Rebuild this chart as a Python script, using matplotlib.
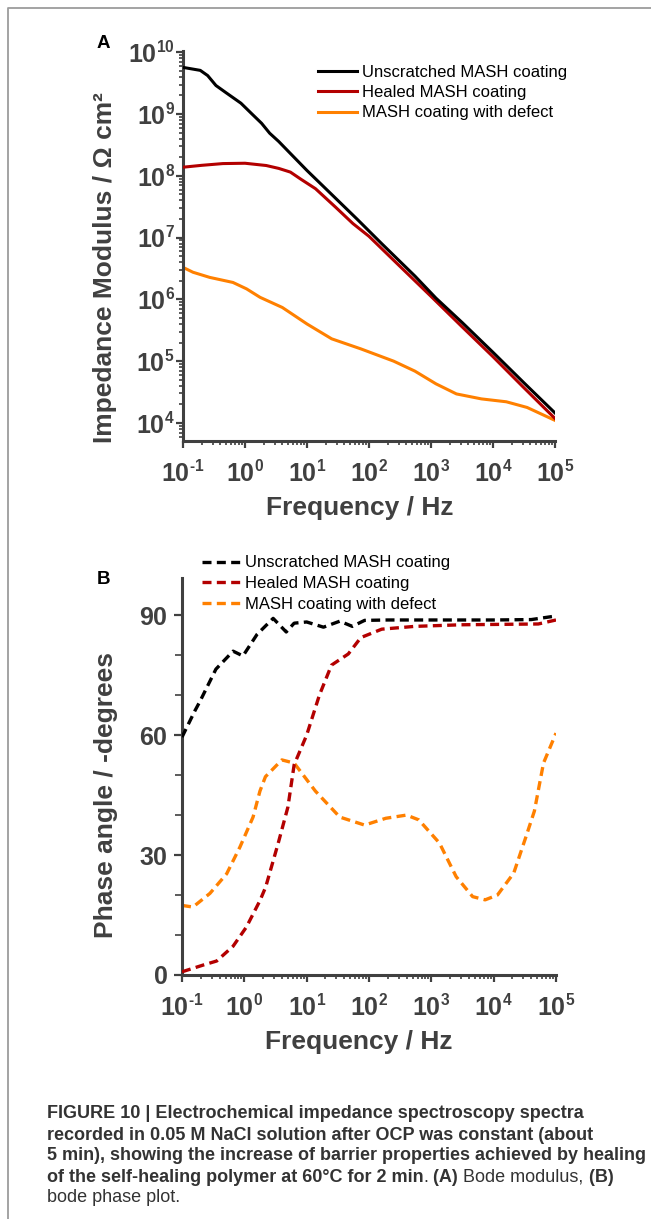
import numpy as np
import matplotlib
matplotlib.use("Agg")
import matplotlib.pyplot as plt
import matplotlib.ticker as ticker
import matplotlib._mathtext as mathtext_internals
from matplotlib.lines import Line2D

plt.rcParams["font.family"] = ["Liberation Sans", "DejaVu Sans"]
plt.rcParams["mathtext.fontset"] = "custom"
plt.rcParams["mathtext.rm"] = "Liberation Sans:bold"
plt.rcParams["mathtext.it"] = "Liberation Sans:bold"
plt.rcParams["mathtext.bf"] = "Liberation Sans:bold"
plt.rcParams["mathtext.default"] = "rm"
# smaller exponents on the tick labels, closer to the original figure
mathtext_internals.SHRINK_FACTOR = 0.62

AXIS_GREY = "#404040"

LABELS = ["Unscratched MASH coating", "Healed MASH coating", "MASH coating with defect"]
COLORS = ["#000000", "#b30000", "#ff8000"]

# --- panel A : Bode modulus (frequency in Hz, |Z| in ohm cm2) ---
mod_unscr_f = [0.1, 0.19, 0.25, 0.34, 0.5, 0.86, 1.3, 1.85, 2.5, 3.5, 5.4, 10, 25, 64, 162,
               552, 1200, 3200, 10000, 32000, 100000]
mod_unscr_z = [5.7e9, 5.1e9, 4.2e9, 2.9e9, 2.2e9, 1.5e9, 1.0e9, 7.1e8, 4.9e8, 3.6e8, 2.3e8,
               1.22e8, 5.0e7, 2.0e7, 7.9e6, 2.38e6, 1.05e6, 4.2e5, 1.39e5, 4.4e4, 1.45e4]

mod_heal_f = [0.1, 0.2, 0.44, 1.0, 2.2, 3.5, 5.4, 8, 13.7, 29, 55, 100, 300, 1000, 3000,
              10000, 30000, 100000]
mod_heal_z = [1.38e8, 1.48e8, 1.58e8, 1.6e8, 1.47e8, 1.32e8, 1.15e8, 8.8e7, 6.2e7, 3.1e7,
              1.69e7, 1.05e7, 3.6e6, 1.12e6, 3.8e5, 1.18e5, 3.9e4, 1.18e4]

mod_def_f = [0.1, 0.145, 0.27, 0.64, 1.06, 1.75, 4.0, 10, 25, 74, 250, 550, 1200, 2570, 6500,
             16400, 35500, 100000]
mod_def_z = [3.3e6, 2.75e6, 2.27e6, 1.88e6, 1.48e6, 1.08e6, 7.4e5, 4.0e5, 2.3e5, 1.58e5,
             1.0e5, 6.9e4, 4.3e4, 2.95e4, 2.45e4, 2.2e4, 1.78e4, 1.1e4]

# --- panel B : Bode phase (frequency in Hz, -phase in degrees) ---
ph_unscr_f = [0.1, 0.16, 0.195, 0.35, 0.66, 0.95, 1.6, 2.9, 4.7, 6.3, 10, 18.6, 34, 54, 85,
              200, 1000, 10000, 40000, 100000]
ph_unscr_p = [59.5, 66, 68.5, 76.5, 81, 79.8, 85.2, 89.2, 85.8, 88, 88.3, 87, 88.5, 87.2, 88.7,
              88.8, 88.8, 88.8, 88.9, 89.8]

ph_heal_f = [0.1, 0.22, 0.36, 0.66, 1.08, 1.78, 2.2, 3.5, 5.0, 6.3, 10, 16, 25, 46.5, 74, 160,
             540, 3000, 52000, 100000]
ph_heal_p = [0.8, 2.5, 3.5, 7.2, 12, 18.6, 22, 33, 42, 52.6, 60, 70, 77.5, 80.3, 84.4, 86.5,
             87.2, 87.6, 87.8, 88.8]

ph_def_f = [0.1, 0.15, 0.28, 0.52, 0.85, 1.38, 1.78, 2.18, 4.0, 6.3, 13.8, 34, 85, 186, 400,
            630, 1350, 2500, 4600, 7300, 11500, 21000, 33000, 45000, 63000, 100000]
ph_def_p = [17.4, 17, 20.4, 25.3, 32, 39.5, 46, 49.6, 53.8, 53, 46, 39.5, 37.5, 39.2, 40, 38.8,
            33, 24.6, 19.6, 18.8, 20, 25.5, 34.6, 41, 53, 60.5]

CAPTION = [
    [("FIGURE 10 | Electrochemical impedance spectroscopy spectra", "bold")],
    [("recorded in 0.05 M NaCl solution after OCP was constant (about", "bold")],
    [("5 min), showing the increase of barrier properties achieved by healing", "bold")],
    [("of the self-healing polymer at 60°C for 2 min", "bold"), (".", "normal"),
     (" (A)", "bold"), (" Bode modulus,", "normal"), (" (B)", "bold")],
    [("bode phase plot.", "normal")],
]


def power_label(v, _):
    exp = int(round(np.log10(v)))
    # short hyphen instead of the wide maths minus, as in the original
    exp_txt = str(exp).replace("-", "\u2010")
    return f"$10^{{{exp_txt}}}$"


def style_axes(ax):
    ax.spines[["top", "right"]].set_visible(False)
    for side in ["left", "bottom"]:
        ax.spines[side].set_color(AXIS_GREY)
        ax.spines[side].set_linewidth(2.2)
    ax.tick_params(which="major", direction="out", length=5, width=1.6,
                   colors=AXIS_GREY, labelsize=18, pad=2)
    ax.tick_params(which="minor", direction="out", length=3, width=1.2, colors=AXIS_GREY)
    ax.tick_params(axis="x", which="major", pad=9)
    ax.set_xscale("log")
    ax.set_xlim(0.1, 1e5)
    ax.xaxis.set_major_locator(ticker.LogLocator(base=10, numticks=10))
    ax.xaxis.set_minor_locator(ticker.LogLocator(base=10, subs=np.arange(2, 10), numticks=10))
    ax.xaxis.set_major_formatter(ticker.FuncFormatter(power_label))
    ax.xaxis.set_minor_formatter(ticker.NullFormatter())
    ax.set_xlabel("Frequency / Hz", fontsize=19, fontweight="bold", color=AXIS_GREY, va="center")


fig = plt.figure(figsize=(6.51, 12.19), dpi=100)
W, H = 651, 1219

# ---------- panel A ----------
ax_a = fig.add_axes([183 / W, 1 - 441 / H, 372 / W, 390 / H])
ax_a.plot(mod_unscr_f, mod_unscr_z, color=COLORS[0], lw=2.2, label=LABELS[0], zorder=4)
ax_a.plot(mod_heal_f, mod_heal_z, color=COLORS[1], lw=2.2, label=LABELS[1], zorder=3)
ax_a.plot(mod_def_f, mod_def_z, color=COLORS[2], lw=2.2, label=LABELS[2], zorder=2)
style_axes(ax_a)
ax_a.set_yscale("log")
ax_a.set_ylim(5.1e3, 1.05e10)
ax_a.yaxis.set_major_locator(ticker.LogLocator(base=10, numticks=12))
ax_a.yaxis.set_minor_locator(ticker.LogLocator(base=10, subs=np.arange(2, 10), numticks=12))
ax_a.yaxis.set_major_formatter(ticker.FuncFormatter(power_label))
ax_a.yaxis.set_minor_formatter(ticker.NullFormatter())
ax_a.tick_params(axis="y", which="major", pad=1)
ax_a.set_ylabel("Impedance Modulus / Ω cm²", fontsize=19, fontweight="bold",
                color=AXIS_GREY, va="center")
ax_a.yaxis.set_label_coords(-0.21, 0.444)
ax_a.xaxis.set_label_coords(0.474, -0.172)
ax_a.legend(loc="upper left", bbox_to_anchor=(318 / W, 1 - 64.5 / H),
            bbox_transform=fig.transFigure, frameon=False, fontsize=12,
            handlelength=2.35, handletextpad=0.3, labelspacing=0.33,
            borderpad=0, borderaxespad=0)

# ---------- panel B ----------
ax_b = fig.add_axes([182 / W, 1 - 975 / H, 374 / W, 397 / H])
dash = (0, (2.7, 1.6))
ax_b.plot(ph_unscr_f, ph_unscr_p, color=COLORS[0], lw=2.4, ls=dash, label=LABELS[0], zorder=4)
ax_b.plot(ph_heal_f, ph_heal_p, color=COLORS[1], lw=2.4, ls=dash, label=LABELS[1], zorder=3)
ax_b.plot(ph_def_f, ph_def_p, color=COLORS[2], lw=2.4, ls=dash, label=LABELS[2], zorder=2)
style_axes(ax_b)
ax_b.set_ylim(0, 99.3)
ax_b.yaxis.set_major_locator(ticker.MultipleLocator(30))
ax_b.yaxis.set_minor_locator(ticker.MultipleLocator(10))
ax_b.yaxis.set_major_formatter(ticker.FuncFormatter(lambda v, _: f"${v:.0f}$"))
ax_b.tick_params(axis="y", which="major", length=6, pad=4)
ax_b.tick_params(axis="y", which="minor", length=5)
ax_b.set_ylabel("Phase angle / -degrees", fontsize=19, fontweight="bold",
                color=AXIS_GREY, va="center")
ax_b.yaxis.set_label_coords(-0.203, 0.453)
ax_b.xaxis.set_label_coords(0.473, -0.170)
ax_b.legend(loc="upper left", bbox_to_anchor=(202 / W, 1 - 555.5 / H),
            bbox_transform=fig.transFigure, frameon=False, fontsize=12,
            handlelength=2.4, handletextpad=0.18, labelspacing=0.33,
            borderpad=0, borderaxespad=0)

# panel letters
fig.text(103 / W, 1 - 43 / H, "A", fontsize=13.5, fontweight="bold", ha="center", va="center")
fig.text(103 / W, 1 - 579 / H, "B", fontsize=13.5, fontweight="bold", ha="center", va="center")

# grey frame round the figure
fig.add_artist(Line2D([8 / W, 8 / W, 1], [0, 1 - 8 / H, 1 - 8 / H],
                      transform=fig.transFigure, color="#9c9c9c", lw=1.3))

# caption, run by run so bold and regular parts can sit on one line
renderer = fig.canvas.get_renderer()
line_y = [1113, 1135, 1156, 1177, 1198]
for runs, y in zip(CAPTION, line_y):
    x = 47
    for text, weight in runs:
        t = fig.text(x / W, 1 - y / H, text, fontsize=13, fontweight=weight,
                     color="#333333", ha="left", va="center")
        x += t.get_window_extent(renderer=renderer).width

fig.savefig("out.png", dpi=100)
